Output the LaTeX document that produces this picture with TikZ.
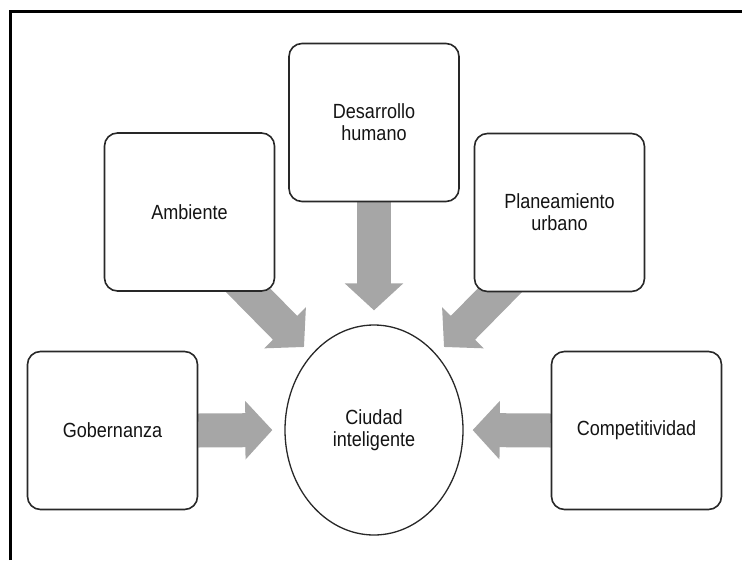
\documentclass[tikz,border=0pt]{standalone}
\usepackage{fontspec}
\setmainfont{Liberation Sans}[FakeStretch=0.88]
\usetikzlibrary{arrows.meta, positioning, shapes.geometric, backgrounds}
\definecolor{arrowgray}{RGB}{166,166,166}
\definecolor{linegray}{RGB}{40,40,40}

\begin{document}
\begin{tikzpicture}[x=1pt, y=-1pt,
    box/.style={draw=linegray, line width=1.6pt, fill=white, rounded corners=13pt,
        minimum width=170pt, minimum height=158pt, align=center,
        font=\fontsize{20.5}{22}\selectfont, text=black!92},
    hub/.style={ellipse, draw=linegray, line width=1.3pt, fill=white, inner sep=0pt,
        minimum width=178pt, minimum height=210pt, align=center,
        font=\fontsize{20.5}{22}\selectfont, text=black!92},
    flow/.style={draw=arrowgray, line width=34pt, -{Triangle[length=27pt, width=57pt]}}]
    \useasboundingbox (0,0) rectangle (742,560);
    \draw[line width=2.8pt] (10.5,560) -- (10.5,11.5) -- (742,11.5);

    \node[hub] (city) at (374,430) {Ciudad\\inteligente};
    \node[box] (amb) at (189.5,212) {Ambiente};
    \node[box] (des) at (374,122.5) {Desarrollo\\humano};
    \node[box] (plan) at (559.5,212.5) {Planeamiento\\urbano};
    \node[box] (gob) at (112.5,430.5) {Gobernanza};
    \node[box] (comp) at (636.5,430.5) {Competitividad};

    \coordinate (amb-out) at (235,277);
    \coordinate (amb-in) at (304,347);
    \coordinate (plan-out) at (513,277);
    \coordinate (plan-in) at (444,347);

    \begin{scope}[on background layer]
        \draw[flow, shorten >=12pt] (gob.east) -- (city.west);
        \draw[flow, shorten >=9pt] (comp.west) -- (city.east);
        \draw[flow, shorten >=14pt] (des.south) -- (city.north);
        \draw[flow] (amb-out) -- (amb-in);
        \draw[flow] (plan-out) -- (plan-in);
    \end{scope}
\end{tikzpicture}
\end{document}
